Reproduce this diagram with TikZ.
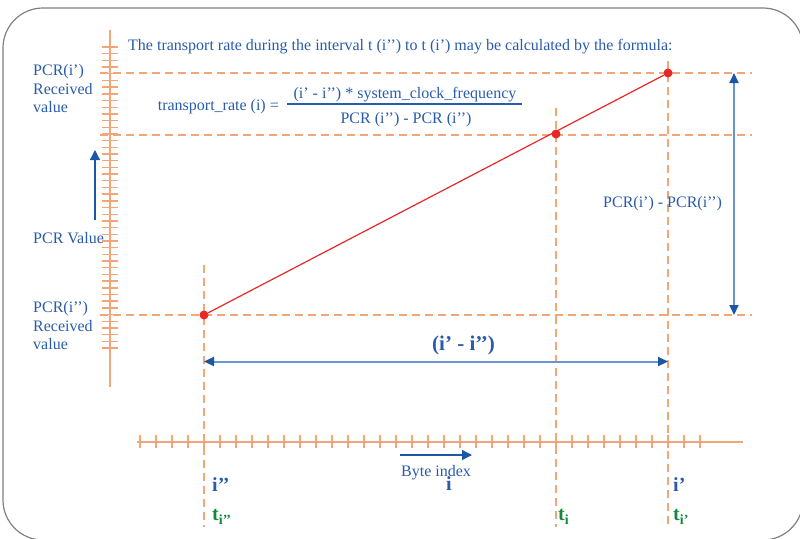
\documentclass[tikz,border=0pt]{standalone}
\usepackage{fontspec}
\setmainfont{Liberation Serif}
\usepackage{xcolor}
\usetikzlibrary{arrows.meta}
\definecolor{txtblue}{RGB}{40,92,170}
\definecolor{axisorange}{RGB}{242,165,118}
\definecolor{ptred}{RGB}{232,40,40}
\definecolor{tgreen}{RGB}{22,135,62}
\definecolor{spanblue}{RGB}{104,150,204}
\definecolor{headblue}{RGB}{30,86,166}
\definecolor{framegray}{RGB}{128,128,128}
\newcommand{\lblfont}{\fontsize{16}{18.8}\selectfont}
\newcommand{\spanfont}{\fontsize{21}{24}\selectfont\bfseries}
\newcommand{\idxfont}{\fontsize{20}{24}\selectfont\bfseries}

\begin{document}
\begin{tikzpicture}[x=1pt,y=-1pt,>=Triangle,
  every node/.style={inner sep=0pt,text=txtblue,font=\lblfont},
  axis/.style={draw=axisorange,line width=2pt},
  tick/.style={draw=axisorange,line width=1.4pt},
  guide/.style={draw=axisorange,line width=2pt,dash pattern=on 8pt off 5pt},
  pcrdot/.style={circle,fill=ptred,minimum size=9pt},
  span/.style={draw=spanblue,line width=2pt,
    {Triangle[length=10pt,width=9pt,color=headblue]}-{Triangle[length=10pt,width=9pt,color=headblue]}},
  hint/.style={draw=headblue,line width=1.3pt,-{Triangle[length=10pt,width=10pt]}}]
\useasboundingbox (0,0) rectangle (800,538);
\draw[framegray,line width=1.2pt,rounded corners=40pt] (3,8) rectangle (803,540);
% axes with ticks
\draw[axis] (110,30) -- (110,387);
\foreach \k in {0,...,45}
  \draw[tick] (102,{47+6.689*\k}) -- (118,{47+6.689*\k});
\draw[axis] (137,441.7) -- (743,441.7);
\foreach \k in {0,...,35}
  \draw[tick] ({140+16*\k},435) -- ({140+16*\k},448);
% guide lines
\draw[guide] (100,73) -- (752,73)
  (100,135) -- (752,135)
  (100,315) -- (752,315);
\draw[guide] (204,265) -- (204,527)
  (556,108) -- (556,527)
  (668,61) -- (668,527);
% PCR samples
\node[pcrdot] (pA) at (204,315) {};
\node[pcrdot] (pB) at (556,134) {};
\node[pcrdot] (pC) at (668,73) {};
\draw[ptred,line width=1.2pt] (pA) -- (pC);
% spans
\coordinate (vTop) at (734,73);
\coordinate (vBot) at (734,315);
\coordinate (hL) at (204,361.5);
\coordinate (hR) at (668,361.5);
\draw[span] (vTop) -- (vBot);
\draw[span] (hL) -- (hR);
\coordinate (upS) at (95,220);
\coordinate (upE) at (95,150);
\draw[hint] (upS) -- (upE);
\coordinate (byS) at (400,455);
\coordinate (byE) at (472,455);
\draw[hint] (byS) -- (byE);
% texts
\node[anchor=base west] (intro) at (128,50.7)
  {The transport rate during the interval t (i’’) to t (i’) may be calculated by the formula:};
\node[anchor=base east] (rate) at (279,110.5) {transport\_rate (i) =};
\node[anchor=base] (num) at (405,98.5) {(i’ - i’’) * system\_clock\_frequency};
\node[anchor=base] (den) at (406,123) {PCR (i’’) - PCR (i’’)};
\draw[txtblue,line width=1.2pt] (287,104) -- (522,104);
\node[anchor=north west,align=left] (topval) at (33,64)
  {PCR(i’)\\Received\\value};
\node[anchor=north west,align=left] (botval) at (33,301)
  {PCR(i’’)\\Received\\value};
\node[anchor=base west] (pcrv) at (33,243) {PCR Value};
\node[anchor=base west] (diff) at (603,207) {PCR(i’) - PCR(i’’)};
\node[anchor=base west,font=\spanfont] (dist) at (432,350) {(i’ - i’’)};
\node[anchor=base west] (byte) at (401,476.5) {Byte index};
\node[anchor=base west,font=\idxfont] (iMid) at (446,490) {i};
\node[anchor=base west,font=\idxfont] (iOld) at (212,491) {i’’};
\node[anchor=base west,font=\idxfont] (iNew) at (673,491) {i’};
\node[anchor=base west,font=\idxfont,text=tgreen] (tOld) at (212,520)
  {t\raisebox{-4pt}{\fontsize{14}{14}\selectfont i’’}};
\node[anchor=base west,font=\idxfont,text=tgreen] (tMid) at (558,520)
  {t\raisebox{-4pt}{\fontsize{14}{14}\selectfont i}};
\node[anchor=base west,font=\idxfont,text=tgreen] (tNew) at (673,520)
  {t\raisebox{-4pt}{\fontsize{14}{14}\selectfont i’}};
\end{tikzpicture}
\end{document}
